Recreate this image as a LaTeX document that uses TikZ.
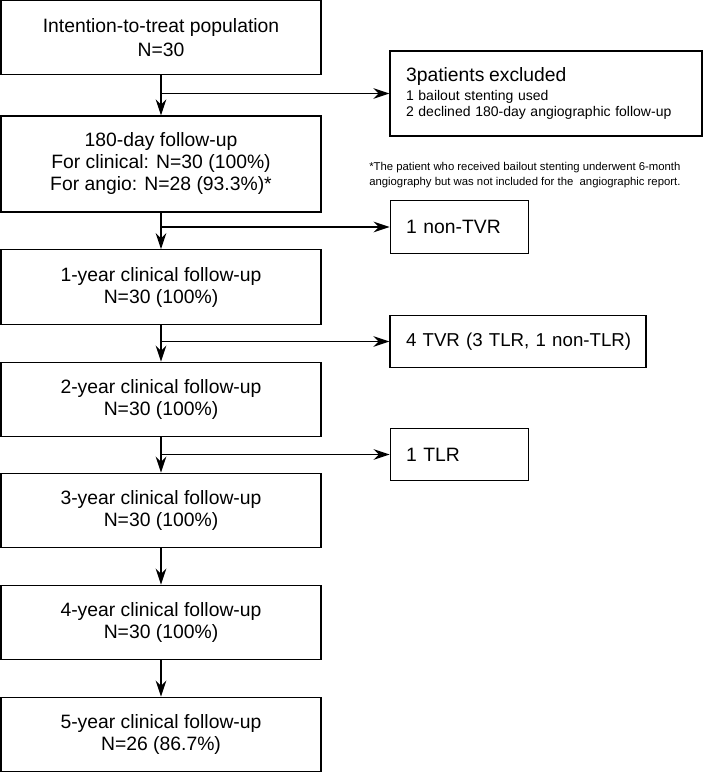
\documentclass[tikz,border=0pt]{standalone}
\usepackage{fontspec}
\setmainfont{Liberation Sans}
\usetikzlibrary{arrows.meta,positioning}

\newcommand\boxfont{\fontsize{14.5pt}{16.5pt}\selectfont}
\newcommand\smallfont{\fontsize{10.5pt}{12pt}\selectfont}
\newcommand\notefont{\fontsize{8.5pt}{11.25pt}\selectfont}

\begin{document}
\begin{tikzpicture}[x=0.75pt,y=-0.75pt,
  >={Stealth[length=12pt,width=8pt,inset=4pt]},
  box/.style={draw,line width=0.9pt,minimum width=240pt,minimum height=56pt,
    align=center,font=\boxfont,inner sep=0pt},
  side/.style={draw,line width=0.9pt,minimum height=39.5pt,align=left,
    font=\boxfont,inner xsep=12pt,inner ysep=0pt}]
\useasboundingbox (0,0) rectangle (703,773);

% main column
\node[box] (itt) at (161,37.5) {Intention-to-treat population\\[1.5pt]N=30};
\node[box,minimum height=72pt] (d180) at (161,164)
  {180-day follow-up\\For clinical: N=30 (100\%)\\For angio: N=28 (93.3\%)*};
\node[box] (y1) at (161,287) {1-year clinical follow-up\\N=30 (100\%)};
\node[box] (y2) at (161,399.5) {2-year clinical follow-up\\N=30 (100\%)};
\node[box] (y3) at (161,510.5) {3-year clinical follow-up\\N=30 (100\%)};
\node[box] (y4) at (161,622.5) {4-year clinical follow-up\\N=30 (100\%)};
\node[box] (y5) at (161,734.5) {5-year clinical follow-up\\N=26 (86.7\%)};

% side boxes
\node[side,font=\smallfont,text width=210pt,minimum height=63.75pt] (excl) at (546,93.5)
  {{\boxfont 3patients excluded}\\[2pt]1 bailout stenting used\\2 declined 180-day angiographic follow-up};
\node[side,text width=80pt] (ntvr) at (459.5,227) {1 non-TVR};
\node[side,text width=168pt,font=\fontsize{14pt}{16pt}\selectfont] (tvr) at (518,341.5)
  {\mbox{4 TVR (3 TLR, 1 non-TLR)}};
\node[side,text width=80pt] (tlr) at (459.5,454.5) {1 TLR};

% footnote
\node[anchor=west,align=left,font=\notefont,inner sep=0pt] (note) at (369,175.5)
  {*The patient who received bailout stenting underwent 6-month\\angiography but was not included for the \ angiographic report.};

% arrows
\draw[->,line width=0.9pt] (itt) -- (d180);
\draw[->,line width=0.9pt] (d180) -- (y1);
\draw[->,line width=0.9pt] (y1) -- (y2);
\draw[->,line width=0.9pt] (y2) -- (y3);
\draw[->,line width=0.9pt] (y3) -- (y4);
\draw[->,line width=0.9pt] (y4) -- (y5);
\draw[->,line width=0.9pt] (itt.south |- excl) -- (excl);
\draw[->,line width=0.9pt] (d180.south |- ntvr) -- (ntvr);
\draw[->,line width=0.9pt] (y1.south |- tvr) -- (tvr);
\draw[->,line width=0.9pt] (y2.south |- tlr) -- (tlr);
\end{tikzpicture}
\end{document}
